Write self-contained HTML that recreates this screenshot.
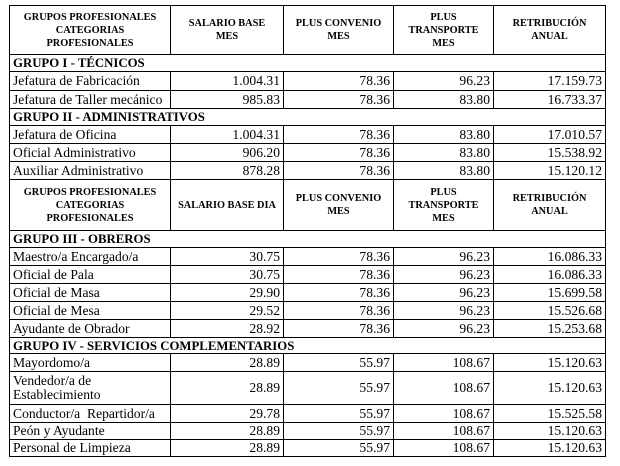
<!DOCTYPE html>
<html><head><meta charset="utf-8"><style>
body{margin:0;background:#fff;width:620px;height:466px;overflow:hidden}
table{position:absolute;left:9px;top:5px;border-collapse:collapse;table-layout:fixed;font-family:"Liberation Serif",serif;font-size:13.6px;color:#000}
td{border:1px solid #000;padding:0 3px;line-height:14px;white-space:nowrap;overflow:hidden}
td.n{text-align:right}
tr.h td{font-size:10.3px;font-weight:bold;text-align:center;line-height:13px;white-space:normal}
tr.g td{font-weight:bold;font-size:12.8px}
</style></head><body>
<table>
<colgroup><col style="width:161px"><col style="width:113px"><col style="width:110px"><col style="width:100px"><col style="width:112px"></colgroup>
<tr class="h" style="height:49px"><td>GRUPOS PROFESIONALES<br>CATEGORIAS<br>PROFESIONALES</td><td>SALARIO BASE<br>MES</td><td>PLUS CONVENIO<br>MES</td><td>PLUS<br>TRANSPORTE<br>MES</td><td>RETRIBUCIÓN<br>ANUAL</td></tr>
<tr class="g" style="height:17px"><td colspan="5">GRUPO I - TÉCNICOS</td></tr>
<tr style="height:19px"><td>Jefatura de Fabricación</td><td class="n">1.004.31</td><td class="n">78.36</td><td class="n">96.23</td><td class="n">17.159.73</td></tr>
<tr style="height:18px"><td>Jefatura de Taller mecánico</td><td class="n">985.83</td><td class="n">78.36</td><td class="n">83.80</td><td class="n">16.733.37</td></tr>
<tr class="g" style="height:17px"><td colspan="5">GRUPO II - ADMINISTRATIVOS</td></tr>
<tr style="height:18px"><td>Jefatura de Oficina</td><td class="n">1.004.31</td><td class="n">78.36</td><td class="n">83.80</td><td class="n">17.010.57</td></tr>
<tr style="height:18px"><td>Oficial Administrativo</td><td class="n">906.20</td><td class="n">78.36</td><td class="n">83.80</td><td class="n">15.538.92</td></tr>
<tr style="height:18px"><td>Auxiliar Administrativo</td><td class="n">878.28</td><td class="n">78.36</td><td class="n">83.80</td><td class="n">15.120.12</td></tr>
<tr class="h" style="height:51px"><td>GRUPOS PROFESIONALES<br>CATEGORIAS<br>PROFESIONALES</td><td>SALARIO BASE DIA</td><td>PLUS CONVENIO<br>MES</td><td>PLUS<br>TRANSPORTE<br>MES</td><td>RETRIBUCIÓN<br>ANUAL</td></tr>
<tr class="g" style="height:17px"><td colspan="5">GRUPO III - OBREROS</td></tr>
<tr style="height:18px"><td>Maestro/a Encargado/a</td><td class="n">30.75</td><td class="n">78.36</td><td class="n">96.23</td><td class="n">16.086.33</td></tr>
<tr style="height:18px"><td>Oficial de Pala</td><td class="n">30.75</td><td class="n">78.36</td><td class="n">96.23</td><td class="n">16.086.33</td></tr>
<tr style="height:18px"><td>Oficial de Masa</td><td class="n">29.90</td><td class="n">78.36</td><td class="n">96.23</td><td class="n">15.699.58</td></tr>
<tr style="height:18px"><td>Oficial de Mesa</td><td class="n">29.52</td><td class="n">78.36</td><td class="n">96.23</td><td class="n">15.526.68</td></tr>
<tr style="height:18px"><td>Ayudante de Obrador</td><td class="n">28.92</td><td class="n">78.36</td><td class="n">96.23</td><td class="n">15.253.68</td></tr>
<tr class="g" style="height:16px"><td colspan="5">GRUPO IV - SERVICIOS COMPLEMENTARIOS</td></tr>
<tr style="height:18px"><td>Mayordomo/a</td><td class="n">28.89</td><td class="n">55.97</td><td class="n">108.67</td><td class="n">15.120.63</td></tr>
<tr style="height:33px"><td style="white-space:normal">Vendedor/a de<br>Establecimiento</td><td class="n">28.89</td><td class="n">55.97</td><td class="n">108.67</td><td class="n">15.120.63</td></tr>
<tr style="height:18px"><td>Conductor/a&nbsp; Repartidor/a</td><td class="n">29.78</td><td class="n">55.97</td><td class="n">108.67</td><td class="n">15.525.58</td></tr>
<tr style="height:17px"><td>Peón y Ayudante</td><td class="n">28.89</td><td class="n">55.97</td><td class="n">108.67</td><td class="n">15.120.63</td></tr>
<tr style="height:17px"><td>Personal de Limpieza</td><td class="n">28.89</td><td class="n">55.97</td><td class="n">108.67</td><td class="n">15.120.63</td></tr>
</table>
</body></html>
